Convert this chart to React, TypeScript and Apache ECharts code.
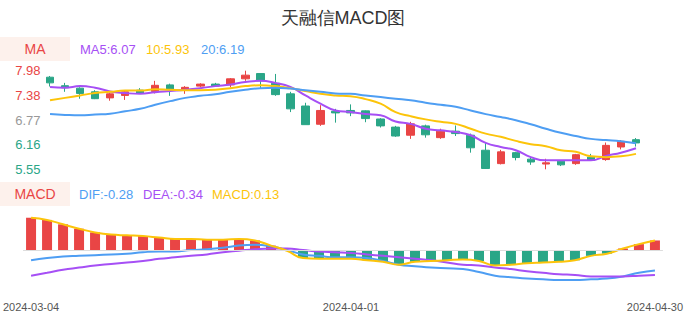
import React, { useEffect, useRef } from "react";
import * as echarts from "echarts";

const dates = [
  "2024-03-04", "2024-03-05", "2024-03-06", "2024-03-07", "2024-03-08",
  "2024-03-11", "2024-03-12", "2024-03-13", "2024-03-14", "2024-03-15",
  "2024-03-18", "2024-03-19", "2024-03-20", "2024-03-21", "2024-03-22",
  "2024-03-25", "2024-03-26", "2024-03-27", "2024-03-28", "2024-03-29",
  "2024-04-01", "2024-04-02", "2024-04-03", "2024-04-08", "2024-04-09",
  "2024-04-10", "2024-04-11", "2024-04-12", "2024-04-15", "2024-04-16",
  "2024-04-17", "2024-04-18", "2024-04-19", "2024-04-22", "2024-04-23",
  "2024-04-24", "2024-04-25", "2024-04-26", "2024-04-29", "2024-04-30",
];

const opens = [7.82, 7.61, 7.55, 7.46, 7.31, 7.37, 7.50, 7.47, 7.63, 7.50, 7.60, 7.65, 7.63, 7.78, 7.91, 7.67, 7.41, 7.11, 6.66, 6.98, 7.00, 6.99, 6.79, 6.59, 6.39, 6.62, 6.33, 6.49, 6.39, 6.02, 5.69, 5.96, 5.80, 5.68, 5.75, 5.69, 5.85, 5.79, 6.10, 6.28];
const closes = [7.68, 7.56, 7.42, 7.29, 7.41, 7.46, 7.43, 7.62, 7.52, 7.57, 7.65, 7.60, 7.78, 7.87, 7.73, 7.39, 7.04, 6.65, 7.00, 6.94, 6.94, 6.80, 6.62, 6.37, 6.67, 6.40, 6.49, 6.43, 6.08, 5.57, 5.98, 5.84, 5.73, 5.71, 5.66, 5.91, 5.77, 6.14, 6.24, 6.20];
const lows = [7.59, 7.46, 7.29, 7.28, 7.24, 7.26, 7.42, 7.42, 7.36, 7.41, 7.57, 7.60, 7.57, 7.73, 7.55, 7.36, 6.96, 6.65, 6.62, 6.70, 6.86, 6.71, 6.58, 6.35, 6.30, 6.33, 6.30, 6.37, 5.96, 5.56, 5.67, 5.77, 5.66, 5.55, 5.63, 5.66, 5.76, 5.76, 6.04, 6.11];
const highs = [7.85, 7.68, 7.57, 7.50, 7.44, 7.50, 7.55, 7.73, 7.66, 7.60, 7.67, 7.68, 7.80, 7.98, 7.91, 7.90, 7.46, 7.19, 7.13, 7.04, 7.15, 7.00, 6.81, 6.62, 6.72, 6.65, 6.55, 6.63, 6.43, 6.20, 6.03, 5.98, 5.85, 5.81, 5.76, 5.93, 5.93, 6.21, 6.27, 6.32];

const ma5 = [7.58, 7.56, 7.60, 7.56, 7.47, 7.43, 7.41, 7.45, 7.48, 7.51, 7.55, 7.60, 7.64, 7.70, 7.73, 7.68, 7.58, 7.37, 7.17, 7.00, 6.96, 6.91, 6.88, 6.73, 6.67, 6.55, 6.51, 6.47, 6.39, 6.20, 6.10, 6.02, 5.85, 5.77, 5.77, 5.77, 5.77, 5.88, 5.96, 6.07];
const ma10 = [7.25, 7.31, 7.37, 7.43, 7.46, 7.49, 7.49, 7.52, 7.51, 7.50, 7.50, 7.51, 7.55, 7.60, 7.62, 7.60, 7.55, 7.48, 7.41, 7.37, 7.35, 7.28, 7.17, 6.96, 6.86, 6.78, 6.72, 6.67, 6.55, 6.43, 6.35, 6.25, 6.17, 6.12, 6.02, 5.98, 5.87, 5.85, 5.87, 5.93];
const ma20 = [6.91, 6.89, 6.88, 6.90, 6.92, 6.98, 7.04, 7.14, 7.23, 7.31, 7.36, 7.40, 7.46, 7.51, 7.55, 7.56, 7.54, 7.50, 7.46, 7.42, 7.41, 7.37, 7.33, 7.29, 7.25, 7.19, 7.14, 7.09, 7.00, 6.91, 6.84, 6.76, 6.66, 6.55, 6.45, 6.37, 6.30, 6.27, 6.24, 6.19];

const macd = [0.44, 0.41, 0.35, 0.29, 0.24, 0.21, 0.20, 0.19, 0.17, 0.15, 0.15, 0.14, 0.14, 0.15, 0.13, 0.06, -0.01, -0.11, -0.12, -0.12, -0.12, -0.14, -0.16, -0.20, -0.16, -0.15, -0.14, -0.13, -0.15, -0.21, -0.20, -0.18, -0.17, -0.16, -0.14, -0.08, -0.05, 0.02, 0.08, 0.13];
const dif = [-0.14, -0.11, -0.09, -0.08, -0.07, -0.06, -0.05, -0.03, -0.02, -0.02, 0.00, 0.01, 0.03, 0.06, 0.07, 0.05, 0.00, -0.06, -0.08, -0.10, -0.10, -0.11, -0.15, -0.20, -0.22, -0.24, -0.25, -0.26, -0.30, -0.35, -0.37, -0.39, -0.40, -0.41, -0.41, -0.40, -0.39, -0.36, -0.31, -0.28];
const dea = [-0.35, -0.31, -0.27, -0.24, -0.21, -0.19, -0.17, -0.15, -0.12, -0.10, -0.08, -0.06, -0.03, -0.01, 0.01, 0.02, 0.02, 0.00, -0.02, -0.03, -0.04, -0.06, -0.08, -0.10, -0.12, -0.14, -0.17, -0.20, -0.21, -0.24, -0.26, -0.29, -0.31, -0.33, -0.34, -0.36, -0.36, -0.36, -0.35, -0.34];

const priceTickLabels = ["5.55", "6.16", "6.77", "7.38", "7.98"];
const shownDateIndexes = [0, 20, 39];

const RED = "#e94545";
const GREEN = "#2aa687";
const PURPLE = "#a64ff5";
const YELLOW = "#fcc40a";
const BLUE = "#4e9ef3";
const FONT = "sans-serif";

export default function App() {
  const ref = useRef<HTMLDivElement>(null);
  useEffect(() => {
    if (!ref.current) return;
    const chart = echarts.init(ref.current, null, { renderer: "svg" });
    const lo = Math.min(...lows);
    const hi = Math.max(...highs);
    const tickVals = priceTickLabels.map((_, k) => lo + ((hi - lo) * k) / (priceTickLabels.length - 1));
    const mid = (lo + hi) / 2;
    const labelFor = (v: number) => {
      let best = 0;
      tickVals.forEach((t, k) => {
        if (Math.abs(t - v) < Math.abs(tickVals[best] - v)) best = k;
      });
      return priceTickLabels[best];
    };
    const candles = opens.map((o, i) => [o, closes[i], lows[i], highs[i]]);
    const last = (a: number[]) => a[a.length - 1].toFixed(2);

    const legendText = (x: number, y: number, text: string, fill: string) => ({
      type: "text",
      x,
      y,
      style: { text, fill, font: `13px ${FONT}`, verticalAlign: "middle" },
    });

    chart.setOption({
      animation: false,
      textStyle: { fontFamily: FONT },
      title: {
        text: "天融信MACD图",
        left: "center",
        top: 4,
        textStyle: { fontSize: 18, fontWeight: "normal", color: "#333" },
      },
      graphic: [
        { type: "rect", shape: { x: 0, y: 37, width: 70, height: 24 }, style: { fill: "#fdf1ec" } },
        { type: "text", x: 35, y: 49, style: { text: "MA", fill: RED, font: `14px ${FONT}`, align: "center", verticalAlign: "middle" } },
        legendText(80, 49, "MA5:" + last(ma5), PURPLE),
        legendText(146, 49, "10:" + last(ma10), YELLOW),
        legendText(201, 49, "20:" + last(ma20), BLUE),
        { type: "rect", shape: { x: 0, y: 182, width: 70, height: 24 }, style: { fill: "#fdf1ec" } },
        { type: "text", x: 35, y: 194, style: { text: "MACD", fill: RED, font: `14px ${FONT}`, align: "center", verticalAlign: "middle" } },
        legendText(79, 194, "DIF:" + last(dif), BLUE),
        legendText(143, 194, "DEA:" + last(dea), PURPLE),
        legendText(212, 194, "MACD:" + last(macd), YELLOW),
      ],
      grid: [
        { left: 42.5, right: 42.5, top: 70.7, height: 98.6 },
        { left: 20, right: 20, top: 206, height: 88 },
      ],
      xAxis: [
        {
          type: "category",
          gridIndex: 0,
          data: dates,
          boundaryGap: true,
          axisLine: { show: false },
          axisTick: { show: false },
          axisLabel: { show: false },
          splitLine: { show: false },
        },
        {
          type: "category",
          gridIndex: 1,
          data: dates,
          boundaryGap: true,
          axisLine: { show: false, onZero: false },
          axisTick: { show: false },
          splitLine: { show: false },
          axisLabel: {
            color: "#555",
            fontSize: 11,
            margin: 7,
            interval: (idx: number) => shownDateIndexes.includes(idx),
          },
        },
      ],
      yAxis: [
        {
          type: "value",
          gridIndex: 0,
          min: lo,
          max: hi,
          splitLine: { show: false },
          axisLine: { show: false },
          axisTick: { show: false },
          axisLabel: {
            customValues: tickVals,
            fontSize: 13,
            margin: 2,
            formatter: (v: number) => labelFor(v),
            color: (v: any) => {
              const n = Number(v);
              if (Math.abs(n - mid) < 1e-6) return "#999";
              return n > mid ? RED : GREEN;
            },
          },
        },
        {
          type: "value",
          gridIndex: 1,
          min: -0.6,
          max: 0.6,
          splitLine: { show: false },
          axisLine: { show: false },
          axisTick: { show: false },
          axisLabel: { show: false },
        },
      ],
      series: [
        {
          type: "candlestick",
          xAxisIndex: 0,
          yAxisIndex: 0,
          data: candles,
          barWidth: 8,
          itemStyle: { color: RED, color0: GREEN, borderColor: RED, borderColor0: GREEN, borderWidth: 1 },
        },
        { type: "line", name: "MA5", xAxisIndex: 0, yAxisIndex: 0, data: ma5, smooth: true, showSymbol: false, lineStyle: { color: PURPLE, width: 2 } },
        { type: "line", name: "MA10", xAxisIndex: 0, yAxisIndex: 0, data: ma10, smooth: true, showSymbol: false, lineStyle: { color: YELLOW, width: 2 } },
        { type: "line", name: "MA20", xAxisIndex: 0, yAxisIndex: 0, data: ma20, smooth: true, showSymbol: false, lineStyle: { color: BLUE, width: 2 } },
        {
          type: "bar",
          name: "MACD",
          xAxisIndex: 1,
          yAxisIndex: 1,
          data: macd,
          barWidth: 10,
          itemStyle: { color: (p: any) => (p.value >= 0 ? RED : GREEN) },
          markLine: {
            silent: true,
            symbol: "none",
            label: { show: false },
            lineStyle: { color: "#dddddd", type: "solid", width: 1 },
            data: [{ yAxis: 0 }],
          },
        },
        { type: "line", name: "DIF", xAxisIndex: 1, yAxisIndex: 1, data: dif, smooth: true, showSymbol: false, lineStyle: { color: BLUE, width: 2 } },
        { type: "line", name: "DEA", xAxisIndex: 1, yAxisIndex: 1, data: dea, smooth: true, showSymbol: false, lineStyle: { color: PURPLE, width: 2 } },
        { type: "line", name: "MACDLine", xAxisIndex: 1, yAxisIndex: 1, data: macd, smooth: true, showSymbol: false, lineStyle: { color: YELLOW, width: 2 } },
      ],
    });
    return () => chart.dispose();
  }, []);
  return <div ref={ref} style={{ width: 686, height: 320, position: "absolute", left: 0, top: 0 }} />;
}
